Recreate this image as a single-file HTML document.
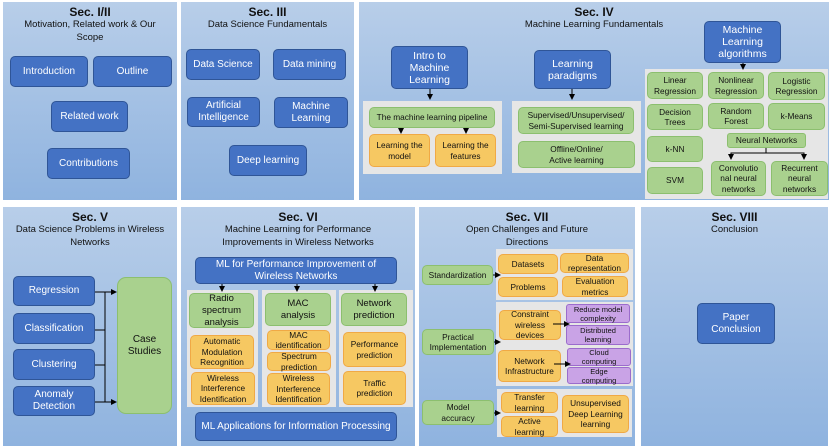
<!DOCTYPE html>
<html><head><meta charset="utf-8"><style>
*{margin:0;padding:0;box-sizing:border-box}
body{width:830px;height:448px;background:#fff;position:relative;overflow:hidden;font-family:"Liberation Sans",sans-serif;color:#111}
.p{position:absolute;background:linear-gradient(#b8cee9,#8fb3df);}
.t{position:absolute;text-align:center;font-size:9.5px;line-height:12.5px;color:#111}
.t b{font-size:12px;display:block;line-height:14px}
.b{position:absolute;display:flex;align-items:center;justify-content:center;text-align:center;font-size:9px;line-height:11px;border-radius:5px}
.bl{background:#4472c4;border:1px solid #2f5597;color:#fff;font-size:10px;line-height:12px}
.gr{background:#a9d18e;border:1px solid #8cbf6f;color:#111;font-size:8.3px;line-height:10.5px}
.or{background:#f6c862;border:1px solid #f0a945;color:#111;font-size:8.3px;line-height:10.5px}
.pu{background:#c9a3e6;border:1px solid #9b6ccc;color:#111;font-size:7.5px;line-height:9px;border-radius:3px}
.gy{position:absolute;background:#e6e6e6}
svg{position:absolute;left:0;top:0}
</style></head><body>
<div class="p" style="left:3px;top:2px;width:174px;height:198px"></div>
<div class="p" style="left:181px;top:2px;width:173px;height:198px"></div>
<div class="p" style="left:359px;top:2px;width:470px;height:198px"></div>
<div class="p" style="left:3px;top:207px;width:174px;height:239px"></div>
<div class="p" style="left:181px;top:207px;width:234px;height:239px"></div>
<div class="p" style="left:419px;top:207px;width:216px;height:239px"></div>
<div class="p" style="left:641px;top:207px;width:187px;height:239px"></div>

<div class="t" style="left:3px;top:5px;width:174px"><b>Sec. I/II</b>Motivation, Related work &amp; Our<br>Scope</div>
<div class="b bl" style="left:10px;top:56px;width:78px;height:31px">Introduction</div>
<div class="b bl" style="left:93px;top:56px;width:79px;height:31px">Outline</div>
<div class="b bl" style="left:51px;top:101px;width:77px;height:31px">Related work</div>
<div class="b bl" style="left:47px;top:148px;width:83px;height:31px">Contributions</div>

<div class="t" style="left:181px;top:5px;width:173px"><b>Sec. III</b>Data Science Fundamentals</div>
<div class="b bl" style="left:186px;top:49px;width:74px;height:31px">Data Science</div>
<div class="b bl" style="left:273px;top:49px;width:73px;height:31px">Data mining</div>
<div class="b bl" style="left:187px;top:97px;width:73px;height:30px">Artificial<br>Intelligence</div>
<div class="b bl" style="left:274px;top:97px;width:74px;height:31px">Machine<br>Learning</div>
<div class="b bl" style="left:229px;top:145px;width:78px;height:31px">Deep learning</div>

<div class="t" style="left:359px;top:5px;width:470px"><b>Sec. IV</b>Machine Learning Fundamentals</div>
<div class="b bl" style="left:391px;top:46px;width:77px;height:43px;font-size:10.5px">Intro to<br>Machine<br>Learning</div>
<div class="gy" style="left:363px;top:101px;width:139px;height:73px"></div>
<div class="b gr" style="left:369px;top:107px;width:126px;height:21px">The machine learning pipeline</div>
<div class="b or" style="left:369px;top:134px;width:61px;height:33px">Learning the<br>model</div>
<div class="b or" style="left:435px;top:134px;width:61px;height:33px">Learning the<br>features</div>
<div class="b bl" style="left:534px;top:50px;width:77px;height:39px;font-size:10.5px">Learning<br>paradigms</div>
<div class="gy" style="left:512px;top:101px;width:129px;height:72px"></div>
<div class="b gr" style="left:518px;top:107px;width:116px;height:27px">Supervised/Unsupervised/<br>Semi-Supervised learning</div>
<div class="b gr" style="left:518px;top:141px;width:117px;height:27px">Offline/Online/<br>Active learning</div>
<div class="b bl" style="left:704px;top:21px;width:77px;height:42px;font-size:10.5px">Machine<br>Learning<br>algorithms</div>
<div class="gy" style="left:645px;top:69px;width:183px;height:130px"></div>
<div class="b gr" style="left:647px;top:72px;width:56px;height:27px">Linear<br>Regression</div>
<div class="b gr" style="left:708px;top:72px;width:56px;height:27px">Nonlinear<br>Regression</div>
<div class="b gr" style="left:768px;top:72px;width:57px;height:28px">Logistic<br>Regression</div>
<div class="b gr" style="left:647px;top:104px;width:56px;height:26px">Decision<br>Trees</div>
<div class="b gr" style="left:708px;top:103px;width:56px;height:26px">Random<br>Forest</div>
<div class="b gr" style="left:768px;top:103px;width:57px;height:27px">k-Means</div>
<div class="b gr" style="left:647px;top:136px;width:56px;height:26px">k-NN</div>
<div class="b gr" style="left:647px;top:167px;width:56px;height:27px">SVM</div>
<div class="b gr" style="left:727px;top:133px;width:79px;height:15px;border-radius:3px">Neural Networks</div>
<div class="b gr" style="left:711px;top:161px;width:55px;height:35px">Convolutio<br>nal neural<br>networks</div>
<div class="b gr" style="left:771px;top:161px;width:57px;height:35px">Recurrent<br>neural<br>networks</div>

<div class="t" style="left:3px;top:210px;width:174px"><b>Sec. V</b>Data Science Problems in Wireless<br>Networks</div>
<div class="b bl" style="left:13px;top:276px;width:82px;height:30px">Regression</div>
<div class="b bl" style="left:13px;top:313px;width:82px;height:31px">Classification</div>
<div class="b bl" style="left:13px;top:349px;width:82px;height:31px">Clustering</div>
<div class="b bl" style="left:13px;top:386px;width:82px;height:30px">Anomaly<br>Detection</div>
<div class="b gr" style="left:117px;top:277px;width:55px;height:137px;font-size:10px;line-height:12px;border-radius:9px">Case<br>Studies</div>

<div class="t" style="left:181px;top:210px;width:234px"><b>Sec. VI</b>Machine Learning for Performance<br>Improvements in Wireless Networks</div>
<div class="b bl" style="left:195px;top:257px;width:202px;height:27px">ML for Performance Improvement of<br>Wireless Networks</div>
<div class="gy" style="left:187px;top:290px;width:71px;height:117px"></div>
<div class="gy" style="left:262px;top:290px;width:74px;height:117px"></div>
<div class="gy" style="left:339px;top:290px;width:74px;height:117px"></div>
<div class="b gr" style="left:189px;top:293px;width:65px;height:35px;font-size:9.5px;line-height:12px">Radio<br>spectrum<br>analysis</div>
<div class="b or" style="left:190px;top:335px;width:64px;height:34px">Automatic<br>Modulation<br>Recognition</div>
<div class="b or" style="left:191px;top:372px;width:64px;height:33px">Wireless<br>Interference<br>Identification</div>
<div class="b gr" style="left:265px;top:293px;width:66px;height:33px;font-size:9.5px;line-height:12px">MAC<br>analysis</div>
<div class="b or" style="left:267px;top:330px;width:63px;height:20px">MAC<br>identification</div>
<div class="b or" style="left:267px;top:352px;width:64px;height:19px">Spectrum<br>prediction</div>
<div class="b or" style="left:267px;top:373px;width:63px;height:32px">Wireless<br>Interference<br>Identification</div>
<div class="b gr" style="left:341px;top:293px;width:66px;height:33px;font-size:9.5px;line-height:12px">Network<br>prediction</div>
<div class="b or" style="left:343px;top:332px;width:63px;height:35px">Performance<br>prediction</div>
<div class="b or" style="left:343px;top:371px;width:63px;height:34px">Traffic<br>prediction</div>
<div class="b bl" style="left:195px;top:412px;width:202px;height:29px">ML Applications for Information Processing</div>

<div class="t" style="left:419px;top:210px;width:216px"><b>Sec. VII</b>Open Challenges and Future<br>Directions</div>
<div class="gy" style="left:496px;top:249px;width:137px;height:51px"></div>
<div class="b or" style="left:498px;top:254px;width:60px;height:20px">Datasets</div>
<div class="b or" style="left:560px;top:253px;width:69px;height:20px">Data<br>representation</div>
<div class="b or" style="left:498px;top:277px;width:60px;height:20px">Problems</div>
<div class="b or" style="left:562px;top:276px;width:66px;height:21px">Evaluation<br>metrics</div>
<div class="b gr" style="left:422px;top:265px;width:71px;height:20px">Standardization</div>
<div class="gy" style="left:496px;top:302px;width:137px;height:84px"></div>
<div class="b or" style="left:499px;top:310px;width:62px;height:30px">Constraint<br>wireless<br>devices</div>
<div class="b pu" style="left:566px;top:304px;width:64px;height:19px">Reduce model<br>complexity</div>
<div class="b pu" style="left:566px;top:325px;width:64px;height:20px">Distributed<br>learning</div>
<div class="b or" style="left:498px;top:350px;width:63px;height:32px">Network<br>Infrastructure</div>
<div class="b pu" style="left:567px;top:348px;width:64px;height:18px">Cloud<br>computing</div>
<div class="b pu" style="left:567px;top:367px;width:64px;height:17px">Edge<br>computing</div>
<div class="b gr" style="left:422px;top:329px;width:72px;height:26px">Practical<br>Implementation</div>
<div class="gy" style="left:497px;top:389px;width:135px;height:48px"></div>
<div class="b or" style="left:501px;top:392px;width:57px;height:21px">Transfer<br>learning</div>
<div class="b or" style="left:501px;top:416px;width:57px;height:21px">Active<br>learning</div>
<div class="b or" style="left:562px;top:395px;width:67px;height:38px">Unsupervised<br>Deep Learning<br>learning</div>
<div class="b gr" style="left:422px;top:400px;width:72px;height:25px">Model<br>accuracy</div>

<div class="t" style="left:641px;top:210px;width:187px"><b>Sec. VIII</b>Conclusion</div>
<div class="b bl" style="left:697px;top:303px;width:78px;height:41px">Paper<br>Conclusion</div>

<svg width="830" height="448">
<defs><marker id="a" markerWidth="6" markerHeight="6" refX="5" refY="3" orient="auto"><path d="M0,0L6,3L0,6z" fill="#000"/></marker></defs>
<g stroke="#000" stroke-width="1" fill="none" marker-end="url(#a)">
<path d="M430,89V99"/><path d="M572,89V99"/><path d="M743,63V69"/>
<path d="M401,128V133"/><path d="M466,128V133"/>
<path d="M95,292H116"/><path d="M105,402H116"/>
<path d="M222,284V291"/><path d="M297,284V291"/><path d="M375,284V291"/>
<path d="M493,275H500"/><path d="M494,342H500"/><path d="M494,413H500"/>
<path d="M553,324H569"/><path d="M554,364H570"/>
</g>
<g stroke="#000" stroke-width="1" fill="none">
<path d="M105,292V402"/><path d="M95,330H105"/><path d="M95,365H105"/><path d="M95,402H105"/>
</g>
<g stroke="#000" stroke-width="1" fill="none">
<path d="M766,148V153H731V159" marker-end="url(#a)"/><path d="M766,153H804V159" marker-end="url(#a)"/>
</g>
</svg>
</body></html>
